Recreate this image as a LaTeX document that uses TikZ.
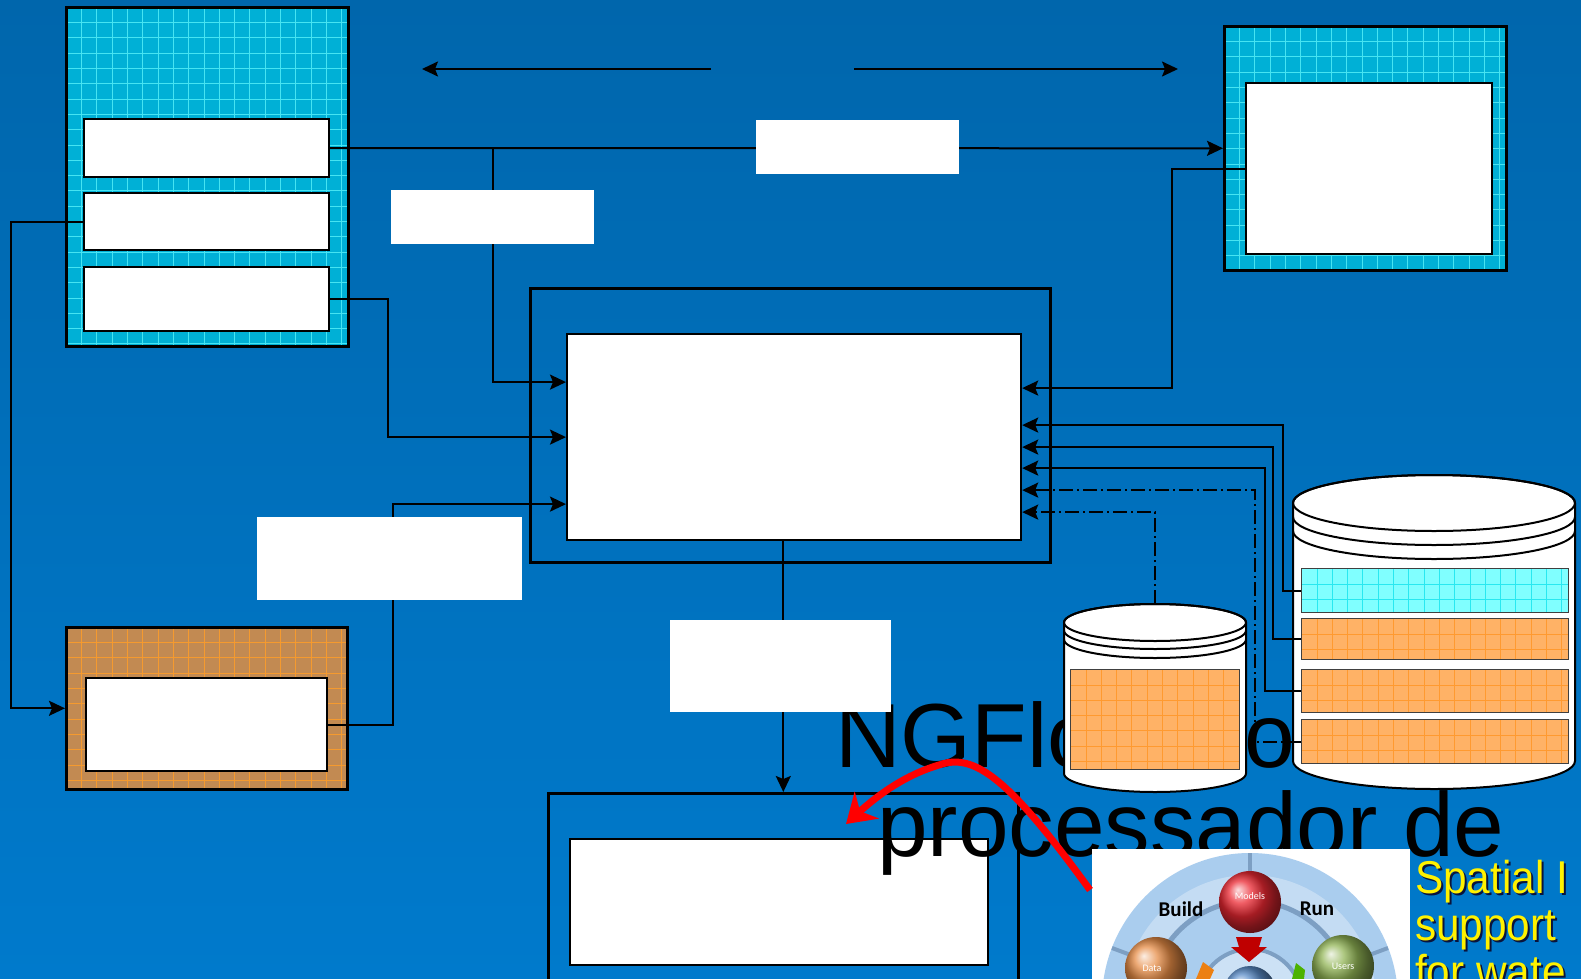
\documentclass[tikz,border=0pt]{standalone}
\usepackage{fontspec}
\setmainfont{Liberation Sans}
\newfontfamily\calfont{Carlito}
\newfontfamily\captionfont[FakeStretch=0.92]{Liberation Sans}
\usetikzlibrary{arrows.meta,calc,shadings}

\definecolor{bgtop}{RGB}{0,102,172}
\definecolor{bgbot}{RGB}{0,122,204}
\definecolor{cyfill}{RGB}{0,176,214}
\definecolor{cyline}{RGB}{70,228,242}
\definecolor{brfill}{RGB}{194,138,82}
\definecolor{brline}{RGB}{245,154,46}
\definecolor{rowcy}{RGB}{128,255,255}
\definecolor{rowcyline}{RGB}{40,232,240}
\definecolor{orfill}{RGB}{255,178,102}
\definecolor{orline}{RGB}{255,154,48}
\definecolor{wheel}{RGB}{170,205,238}
\definecolor{wheelline}{RGB}{125,159,195}
\definecolor{shadowc}{RGB}{10,20,60}

\tikzset{
  gridded/.style n args={3}{fill=#1, path picture={
    \foreach \k in {1,...,40}{
      \draw[#2, line width=1pt]
        ([xshift=\k*#3pt]path picture bounding box.north west) --
        ([xshift=\k*#3pt]path picture bounding box.south west);
      \draw[#2, line width=1pt]
        ([yshift=-\k*#3pt]path picture bounding box.north west) --
        ([yshift=-\k*#3pt]path picture bounding box.north east);
    }}},
  outerbox/.style={draw=black, line width=2.6pt, inner sep=0, anchor=north west},
  whitebox/.style={draw=black, fill=white, line width=2.2pt, inner sep=0, anchor=north west},
  whitetag/.style={fill=white, inner sep=0, anchor=north west},
  conn/.style={draw=black, line width=2pt},
  arr/.style={conn, -{Stealth[length=16pt,width=15pt,inset=3pt]}},
  dd/.style={arr, dash pattern=on 14pt off 4pt on 2pt off 4pt},
  cyl/.style={fill=white, draw=black, line width=2pt},
  rowbox/.style={draw=black!75, line width=1.4pt, inner sep=0, anchor=north west, minimum width=267},
  bigtext/.style={font=\fontsize{91}{91}\selectfont, anchor=base west, inner sep=0},
  yeltext/.style={font=\captionfont\fontsize{46}{47}\selectfont, anchor=base west, inner sep=0, text=yellow},
  yelshadow/.style={font=\captionfont\fontsize{46}{47}\selectfont, anchor=base west, inner sep=0, text=shadowc},
}

\begin{document}
\begin{tikzpicture}[x=1pt,y=-1pt]
\useasboundingbox (0,0) rectangle (1581,979);
\clip (0,0) rectangle (1581,979);
\shade[top color=bgtop, bottom color=bgbot] (0,0) rectangle (1581,979);

% --- blocks ---
\node[outerbox, gridded={cyfill}{cyline}{15.3}, minimum width=282, minimum height=339] (TL) at (65,6) {};
\node[whitebox, minimum width=245, minimum height=58] (b1) at (83,118) {};
\node[whitebox, minimum width=245, minimum height=57] (b2) at (83,192) {};
\node[whitebox, minimum width=245, minimum height=64] (b3) at (83,266) {};

\node[outerbox, gridded={cyfill}{cyline}{15.3}, minimum width=282, minimum height=244] (TR) at (1223,25) {};
\node[whitebox, minimum width=246, minimum height=171] (TRin) at (1245,82) {};

\node[outerbox, minimum width=520, minimum height=274] (MO) at (529,287) {};
\node[whitebox, minimum width=454, minimum height=206] (MI) at (566,333) {};

\node[outerbox, gridded={brfill}{brline}{15.3}, minimum width=281, minimum height=162] (BR) at (65,626) {};
\node[whitebox, minimum width=241, minimum height=93] (BRin) at (85,677) {};

\node[outerbox, minimum width=470, minimum height=215] (BO) at (547,792) {};
\node[whitebox, minimum width=418, minimum height=126] (BOin) at (569,838) {};

% --- heading text behind the storage drums ---
\node[bigtext] (t1) at (835,767) {NGFlow - o};
\node[bigtext] (t2) at (877,856) {processador de};

% --- small drum ---
\path[cyl] (1064,622.5) -- (1064,773.5)
  arc[start angle=180, end angle=0, x radius=91, y radius=18.5] -- (1246,622.5)
  arc[start angle=0, end angle=-180, x radius=91, y radius=18.5] -- cycle;
\draw[line width=2pt] (1155,622.5) ellipse [x radius=91, y radius=18.5];
\draw[line width=2pt] (1064,630.5) arc[start angle=180, end angle=0, x radius=91, y radius=18.5];
\draw[line width=2pt] (1064,639.5) arc[start angle=180, end angle=0, x radius=91, y radius=18.5];
\node[rowbox, gridded={orfill}{orline}{15.3}, minimum width=169, minimum height=100] (sp) at (1070,669) {};
\coordinate (sctop) at (1155,604);

% --- large drum ---
\path[cyl] (1293,503) -- (1293,761)
  arc[start angle=180, end angle=0, x radius=141, y radius=28] -- (1575,503)
  arc[start angle=0, end angle=-180, x radius=141, y radius=28] -- cycle;
\draw[line width=2pt] (1434,503) ellipse [x radius=141, y radius=28];
\draw[line width=2pt] (1293,517) arc[start angle=180, end angle=0, x radius=141, y radius=28];
\draw[line width=2pt] (1293,531) arc[start angle=180, end angle=0, x radius=141, y radius=28];
\node[rowbox, gridded={rowcy}{rowcyline}{15.3}, minimum height=44] (r1) at (1301,568) {};
\node[rowbox, gridded={orfill}{orline}{15.3}, minimum height=41] (r2) at (1301,618) {};
\node[rowbox, gridded={orfill}{orline}{15.3}, minimum height=43] (r3) at (1301,669) {};
\node[rowbox, gridded={orfill}{orline}{15.3}, minimum height=44] (r4) at (1301,719) {};

% --- connectors ---
\coordinate (la) at (711,69);
\coordinate (lb) at (422,69);
\coordinate (ra) at (854,69);
\coordinate (rb) at (1178,69);
\draw[arr] (la) -- (lb);
\draw[arr] (ra) -- (rb);

\node[whitetag, minimum width=203, minimum height=54] (L2) at (391,190) {};
\draw[arr] (b1.east) -- (TR.west);
\draw[arr] (L2 |- b1.east) |- ([yshift=55pt]MI.west);
\draw[arr] (b3.east) -- ++(58,0) |- (MI.west);
\draw[arr] (b2.west) -- ++(-72,0) |- (BR.west);
\draw[arr] (BRin.east) -- ++(65,0) |- ([yshift=-67pt]MI.west);
\draw[arr] (TRin.west) -- ++(-73,0) |- ([yshift=49pt]MI.east);
\draw[arr] (BO.north |- MI.south) -- (BO.north);

\draw[arr] (r1.west) -- ++(-18,0) |- ([yshift=12pt]MI.east);
\draw[arr] (r2.west) -- ++(-28,0) |- ([yshift=-10pt]MI.east);
\draw[arr] (r3.west) -- ++(-36,0) |- ([yshift=-31pt]MI.east);
\draw[dd] (r4.west) -- ++(-46,0) |- ([yshift=-53pt]MI.east);
\draw[dd] (sctop) |- ([yshift=-75pt]MI.east);

% --- white caption plates ---
\node[whitetag, minimum width=203, minimum height=54] (L1) at (756,120) {};
\node[whitetag, minimum width=203, minimum height=54] (L2b) at (391,190) {};
\node[whitetag, minimum width=265, minimum height=83] (L3) at (257,517) {};
\node[whitetag, minimum width=221, minimum height=92] (L4) at (670,620) {};

% --- Build / Run wheel ---
\node[fill=white, inner sep=0, anchor=north west, minimum width=318, minimum height=140] (pic) at (1092,849) {};
\begin{scope}
  \clip (1092,849) rectangle (1410,990);
  \fill[wheel] (1250,1001) circle [radius=148];
  \fill[wheel!70!white] (1250,1001) circle [radius=126];
  \fill[wheel] (1250,1001) circle [radius=100];
  \draw[wheelline, line width=4pt] (1250,853) -- (1250,905);
  \draw[wheelline, line width=4pt] (1112,948) -- (1160,966);
  \draw[wheelline, line width=4pt] (1388,948) -- (1340,966);
  \draw[wheelline, line width=5pt] (1250,1001) circle [radius=100];
  \fill[wheel!60!white] (1250,1001) circle [radius=52];
  \draw[wheelline, line width=4pt] (1250,1001) circle [radius=52];
  \shade[ball color={rgb,255:red,235;green,40;blue,50}] (1250,902) circle [radius=31];
  \shade[ball color={rgb,255:red,230;green,140;blue,70}] (1156,968) circle [radius=31];
  \shade[ball color={rgb,255:red,145;green,180;blue,85}] (1343,966) circle [radius=31];
  \shade[ball color={rgb,255:red,90;green,140;blue,200}] (1250,992) circle [radius=26];
  \fill[red!75!black] (1236,937) -- (1262,937) -- (1259,947) -- (1267,947) -- (1249,962) -- (1231,947) -- (1239,947) -- cycle;
  \fill[orange!70!brown] (1196,979) -- (1203,962) -- (1214,970) -- (1210,979) -- cycle;
  \fill[green!40!olive] (1292,979) -- (1296,963) -- (1305,970) -- (1304,979) -- cycle;
  \node[font=\calfont\bfseries\fontsize{21}{21}\selectfont] (tb) at (1181,909) {Build};
  \node[font=\calfont\bfseries\fontsize{21}{21}\selectfont] (tr) at (1317,909) {Run};
  \node[font=\calfont\fontsize{10}{10}\selectfont, text=white] (tm) at (1250,896) {Models};
  \node[font=\calfont\fontsize{10}{10}\selectfont, text=white] (td) at (1152,968) {Data};
  \node[font=\calfont\fontsize{10}{10}\selectfont, text=white] (tu) at (1343,966) {Users};
\end{scope}

% --- red curved arrow ---
\coordinate (rs) at (1090,890);
\coordinate (re) at (846,824);
\draw[red, line width=7pt, -{Stealth[length=28pt,width=36pt,inset=9pt]}]
  (rs) .. controls (1010,780) and (975,752) .. (939,765) .. controls (905,775) and (878,795) .. (re);

% --- yellow caption ---
\node[yelshadow] at (1417,895) {Spatial I};
\node[yelshadow] at (1417,942) {support};
\node[yelshadow] at (1417,989) {for wate};
\node[yeltext] (y1) at (1415,893) {Spatial I};
\node[yeltext] (y2) at (1415,940) {support};
\node[yeltext] (y3) at (1415,987) {for wate};
\end{tikzpicture}
\end{document}
